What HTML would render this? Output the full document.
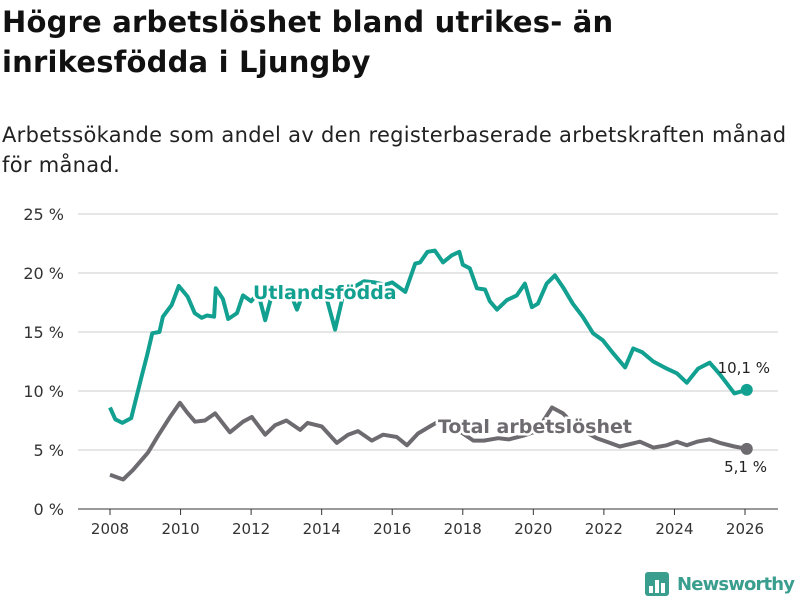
<!DOCTYPE html>
<html><head><meta charset="utf-8"><style>
body{margin:0;width:800px;height:600px;background:#fff;font-family:"Liberation Sans","DejaVu Sans",sans-serif;overflow:hidden}
h1{position:absolute;left:2px;top:2px;margin:0;font-size:29px;line-height:40px;font-weight:bold;color:#111;font-family:"DejaVu Sans","Liberation Sans",sans-serif;letter-spacing:0.2px}
p{position:absolute;left:2px;top:120px;margin:0;font-size:21px;line-height:30px;color:#222;font-family:"DejaVu Sans","Liberation Sans",sans-serif;letter-spacing:0.3px}
svg{position:absolute;left:0;top:0}
</style></head><body>
<h1>Högre arbetslöshet bland utrikes- än<br>inrikesfödda i Ljungby</h1>
<p>Arbetssökande som andel av den registerbaserade arbetskraften månad<br>för månad.</p>
<svg id="c" width="800" height="600"></svg>
<script>
const yTicks=[0,5,10,15,20,25];
const xTicks=[2008,2010,2012,2014,2016,2018,2020,2022,2024,2026];
const foreignT=[2008.0,2008.15,2008.35,2008.6,2008.75,2008.9,2009.05,2009.2,2009.4,2009.5,2009.75,2009.95,2010.2,2010.4,2010.6,2010.75,2010.95,2011.0,2011.2,2011.35,2011.6,2011.77,2012.0,2012.2,2012.4,2012.6,2012.9,2013.1,2013.3,2013.5,2013.8,2014.1,2014.38,2014.6,2014.9,2015.2,2015.5,2015.8,2016.0,2016.37,2016.65,2016.79,2017.0,2017.21,2017.44,2017.69,2017.9,2018.0,2018.2,2018.4,2018.63,2018.77,2018.97,2019.25,2019.53,2019.76,2019.96,2020.13,2020.38,2020.61,2020.84,2021.12,2021.4,2021.69,2021.97,2022.26,2022.6,2022.83,2023.08,2023.4,2023.78,2024.07,2024.35,2024.67,2025.0,2025.29,2025.7,2026.05];
const foreignV=[8.6,7.6,7.3,7.7,9.5,11.3,13.0,14.9,15.0,16.3,17.3,18.9,18.0,16.6,16.2,16.4,16.3,18.7,17.8,16.1,16.6,18.1,17.6,18.3,16.0,18.3,18.6,18.4,16.9,18.5,18.6,18.3,15.2,18.0,18.8,19.3,19.2,19.0,19.2,18.4,20.8,20.9,21.8,21.9,20.9,21.5,21.8,20.7,20.4,18.7,18.6,17.6,16.9,17.7,18.1,19.1,17.1,17.4,19.1,19.8,18.8,17.4,16.3,14.9,14.3,13.2,12.0,13.6,13.3,12.5,11.9,11.5,10.7,11.9,12.4,11.4,9.8,10.1];
const totalT=[2008.0,2008.37,2008.65,2009.08,2009.36,2009.7,2009.98,2010.18,2010.41,2010.69,2010.98,2011.4,2011.77,2012.02,2012.4,2012.68,2013.0,2013.39,2013.6,2014.0,2014.43,2014.75,2015.03,2015.42,2015.74,2016.13,2016.42,2016.73,2017.07,2017.3,2017.6,2017.9,2018.3,2018.6,2019.0,2019.3,2019.7,2020.1,2020.53,2020.84,2021.2,2021.8,2022.08,2022.45,2023.02,2023.4,2023.78,2024.07,2024.35,2024.64,2025.0,2025.29,2025.7,2026.05];
const totalV=[2.9,2.5,3.3,4.8,6.2,7.8,9.0,8.2,7.4,7.5,8.1,6.5,7.4,7.8,6.3,7.1,7.5,6.7,7.3,7.0,5.6,6.3,6.6,5.8,6.3,6.1,5.4,6.4,7.0,7.4,7.0,6.6,5.8,5.8,6.0,5.9,6.2,6.6,8.6,8.1,7.0,6.0,5.7,5.3,5.7,5.2,5.4,5.7,5.4,5.7,5.9,5.6,5.3,5.1];
const svg=document.getElementById('c');const NS='http://www.w3.org/2000/svg';
const X=t=>110+(t-2008)*635/18, Y=v=>509-v*11.8;
function mk(tag,a,p){const e=document.createElementNS(NS,tag);for(const k in a)e.setAttribute(k,a[k]);(p||svg).appendChild(e);return e;}
yTicks.forEach(v=>{const g=mk('line',{x1:78,x2:778,y1:Y(v),y2:Y(v),stroke:v?'#ddd':'#333','stroke-width':v?1.5:1});


const t=mk('text',{x:64,y:Y(v)+6,'text-anchor':'end','font-size':16,fill:'#333','font-family':'DejaVu Sans,Liberation Sans,sans-serif'});t.textContent=v+' %';

});
xTicks.forEach(v=>{const l=mk('line',{x1:X(v),x2:X(v),y1:509,y2:515,stroke:'#333'});


const t=mk('text',{x:X(v),y:534,'text-anchor':'middle','font-size':15,fill:'#333','font-family':'DejaVu Sans,Liberation Sans,sans-serif'});t.textContent=v;

});
function line(T,V,c,n){const d=T.map((t,i)=>(i?'L':'M')+X(t).toFixed(1)+','+Y(V[i]).toFixed(1)).join('');
const p=mk('path',{d:d,fill:'none',stroke:c,'stroke-width':4,'stroke-linejoin':'round'});


const c2=mk('circle',{cx:X(T[T.length-1]),cy:Y(V[V.length-1]),r:6,fill:c});

}
line(totalT,totalV,'#6d6b70','total');
line(foreignT,foreignV,'#12a090','foreign');
function lab(x,y,s,c,n,w,sz,a){const t=mk('text',{x:x,y:y,fill:c,'font-size':sz,'font-weight':w,'text-anchor':a||'start','font-family':'DejaVu Sans,Liberation Sans,sans-serif',stroke:'#fff','stroke-width':w=='bold'?5:0,'paint-order':'stroke'});t.textContent=s;

}
lab(253,299,'Utlandsfödda','#12a090','series-label-foreign','bold',19);
lab(438,433,'Total arbetslöshet','#6d6b70','series-label-total','bold',19);
lab(770,373,'10,1 %','#222','end-value-foreign','normal',15,'end');
lab(767,472,'5,1 %','#222','end-value-total','normal',15,'end');
const g=mk('g',{});
mk('rect',{x:645,y:572,width:24,height:24,rx:3,fill:'#3a9e8f'},g);
[[649,586,4,7],[655,580,4,13],[661,583,4,10]].forEach(r=>mk('rect',{x:r[0],y:r[1],width:r[2],height:r[3],fill:'#fff'},g));
const lt=mk('text',{x:677,y:590,'font-size':18,'font-weight':'bold',fill:'#3a9e8f','font-family':'DejaVu Sans,Liberation Sans,sans-serif','textLength':118},g);lt.textContent='Newsworthy';
</script>
</body></html>
